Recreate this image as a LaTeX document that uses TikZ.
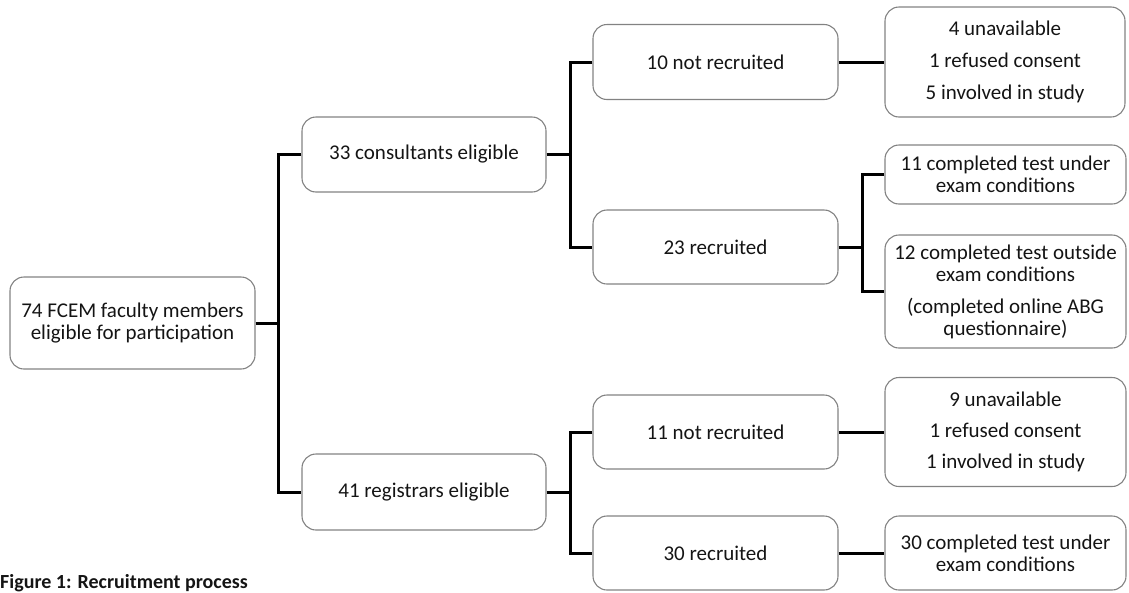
\documentclass[tikz,border=0pt]{standalone}
\usepackage{fontspec}
\setmainfont{Carlito}
\begin{document}
\begin{tikzpicture}[x=1pt,y=-1pt,
  box/.style={draw={rgb,255:red,130;green,130;blue,130}, line width=1.1pt, rounded corners=14pt,
    align=center, inner sep=0pt, font=\fontsize{21}{22}\selectfont, text={rgb,255:red,20;green,20;blue,20}},
  conn/.style={line width=3pt, black}]
\useasboundingbox (0,0) rectangle (1129,592);
% level 0
\node[box, minimum width=245pt, minimum height=92pt] (root) at (132.5,323) {74 FCEM faculty members\\eligible for participation};
% level 1
\node[box, minimum width=244pt, minimum height=75pt] (cons) at (424,154.5) {33 consultants eligible};
\node[box, minimum width=244pt, minimum height=76pt] (reg) at (424,492) {41 registrars eligible};
% level 2
\node[box, minimum width=245pt, minimum height=75pt] (nr1) at (715.5,62) {10 not recruited};
\node[box, minimum width=245pt, minimum height=74pt] (r1) at (715.5,247) {23 recruited};
\node[box, minimum width=245pt, minimum height=74pt] (nr2) at (715.5,432) {11 not recruited};
\node[box, minimum width=245pt, minimum height=74pt] (r2) at (715.5,553) {30 recruited};
% level 3
\node[box, minimum width=240pt, minimum height=110pt] (b1) at (1005,62) {4 unavailable\\[10pt]1 refused consent\\[10pt]5 involved in study};
\node[box, minimum width=241pt, minimum height=59pt] (b2) at (1005.5,174.5) {11 completed test under\\exam conditions};
\node[box, minimum width=241pt, minimum height=113pt] (b3) at (1005.5,291.5) {12 completed test outside\\exam conditions\\[10pt](completed online ABG\\questionnaire)};
\node[box, minimum width=241pt, minimum height=109pt] (b4) at (1005.5,432) {9 unavailable\\[9pt]1 refused consent\\[9pt]1 involved in study};
\node[box, minimum width=241pt, minimum height=74pt] (b5) at (1005.5,553) {30 completed test under\\exam conditions};
% junctions
\coordinate (j1) at (278,323);
\coordinate (j2) at (570,154.5);
\coordinate (j3) at (862,247);
\coordinate (j4) at (570,492);
% connectors
\draw[conn] (root.east) -- (j1);
\draw[conn] (cons.west) -| (j1) |- (reg.west);
\draw[conn] (cons.east) -- (j2);
\draw[conn] (nr1.west) -| (j2) |- (r1.west);
\draw[conn] (reg.east) -- (j4);
\draw[conn] (nr2.west) -| (j4) |- (r2.west);
\draw[conn] (r1.east) -- (j3);
\draw[conn] (b2.west) -| (j3) |- (b3.west);
\draw[conn] (nr1.east) -- (b1.west);
\draw[conn] (nr2.east) -- (b4.west);
\draw[conn] (r2.east) -- (b5.west);
% caption
\node[anchor=base west, inner sep=0pt, font=\fontsize{20}{22}\selectfont\bfseries, text={rgb,255:red,20;green,20;blue,20}] (cap) at (0,588) {Figure 1: Recruitment process};
\end{tikzpicture}
\end{document}
